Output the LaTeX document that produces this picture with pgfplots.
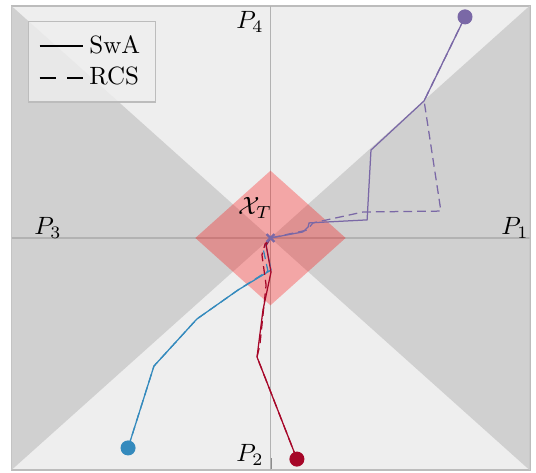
\documentclass[border=0pt]{standalone}
\usepackage{pgfplots}
\pgfplotsset{compat=1.18}
\definecolor{bgl}{HTML}{EEEEEE}
\definecolor{bgd}{HTML}{D0D0D0}
\definecolor{cblue}{HTML}{348ABD}
\definecolor{cred}{HTML}{A60628}
\definecolor{cpurp}{HTML}{7A68A6}
\definecolor{framec}{HTML}{BCBCBC}

\begin{document}
\begin{tikzpicture}
\begin{axis}[name=ax, scale only axis, width=207.2pt, height=185.6pt,
  xmin=-1, xmax=1, ymin=-1, ymax=1,
  xtick={-1,0,1}, ytick={-1,0,1}, xticklabels={}, yticklabels={},
  tick pos=left, tick align=inside, major tick length=4.6pt,
  tick style={color=black!45, line width=0.8pt},
  axis line style={framec, line width=0.8pt},
  axis background/.style={fill=bgl},
  legend style={at={(0.032,0.968)}, anchor=north west, fill=bgl, fill opacity=0.8,
    text opacity=1, draw=framec, line width=0.5pt, font=\normalsize,
    inner xsep=4pt, inner ysep=3.5pt},
  legend cell align=left,
  legend image code/.code={\draw[#1] (0pt,0pt) -- (17.5pt,0pt);},
]
% shaded sectors
\addplot[fill=bgd, draw=none, forget plot] coordinates {(-1,-1) (0,0) (-1,1) (-1,-1)};
\addplot[fill=bgd, draw=none, forget plot] coordinates {(1,-1) (0,0) (1,1) (1,-1)};
% axis lines through origin
\addplot[black!30, line width=0.6pt, forget plot] coordinates {(-1,0) (1,0)};
\addplot[black!30, line width=0.6pt, forget plot] coordinates {(0,-1) (0,1)};
% target set
\addplot[fill=red, fill opacity=0.3, draw=none, forget plot]
  coordinates {(0.29,0) (0,0.29) (-0.29,0) (0,-0.29) (0.29,0)};

% legend entries
\addlegendimage{black, line width=0.8pt}
\addlegendentry{SwA}
\addlegendimage{black, line width=0.8pt, dash pattern=on 6.5pt off 4.5pt}
\addlegendentry{RCS}

% blue
\addplot[cblue, line width=0.5pt, forget plot] coordinates {
(-0.550,-0.905) (-0.450,-0.552) (-0.284,-0.349) (-0.125,-0.224)
(0.002,-0.138) (-0.017,-0.034) (0,0)};
\addplot[cblue, line width=0.5pt, dash pattern=on 3.5pt off 2pt, forget plot] coordinates {
(-0.550,-0.905) (-0.450,-0.552) (-0.284,-0.349) (-0.125,-0.224)
(-0.010,-0.142) (-0.029,-0.043) (0,0)};
% red
\addplot[cred, line width=0.5pt, forget plot] coordinates {
(0.102,-0.953) (-0.052,-0.513) (-0.029,-0.310) (0.002,-0.147)
(-0.010,-0.073) (-0.017,-0.030) (0,0)};
\addplot[cred, line width=0.5pt, dash pattern=on 3.5pt off 2pt, forget plot] coordinates {
(0.102,-0.953) (-0.052,-0.513) (-0.041,-0.461) (-0.017,-0.203)
(-0.033,-0.073) (-0.021,-0.026) (0,0)};
% purple
\addplot[cpurp, line width=0.5pt, forget plot] coordinates {
(0.751,0.953) (0.593,0.591) (0.388,0.379) (0.373,0.078)
(0.149,0.065) (0.145,0.047) (0.125,0.026) (0,0)};
\addplot[cpurp, line width=0.5pt, dash pattern=on 3.5pt off 2pt, forget plot] coordinates {
(0.751,0.953) (0.593,0.591) (0.658,0.116) (0.357,0.112)
(0.164,0.065) (0.141,0.034) (0,0)};

% start points and target
\addplot[only marks, mark=*, mark size=2.8pt, cblue, forget plot] coordinates {(-0.550,-0.905)};
\addplot[only marks, mark=*, mark size=2.8pt, cred, forget plot] coordinates {(0.102,-0.953)};
\addplot[only marks, mark=*, mark size=2.8pt, cpurp, forget plot] coordinates {(0.751,0.953)};
\addplot[only marks, mark=x, mark size=2.2pt, line width=0.9pt, cpurp, forget plot] coordinates {(0,0)};

% labels
\node at (axis cs:-0.079,0.93) {$P_4$};
\node at (axis cs:-0.859,0.043) {$P_3$};
\node at (axis cs:0.944,0.043) {$P_1$};
\node at (axis cs:-0.079,-0.935) {$P_2$};
\node at (axis cs:-0.060,0.129) {$\mathcal{X}_T$};
\end{axis}
\pgfresetboundingbox
\path[use as bounding box] ([xshift=-4.6pt,yshift=-1.2pt]ax.south west)
  rectangle ([xshift=2.6pt,yshift=2.4pt]ax.north east);
\end{tikzpicture}
\end{document}
